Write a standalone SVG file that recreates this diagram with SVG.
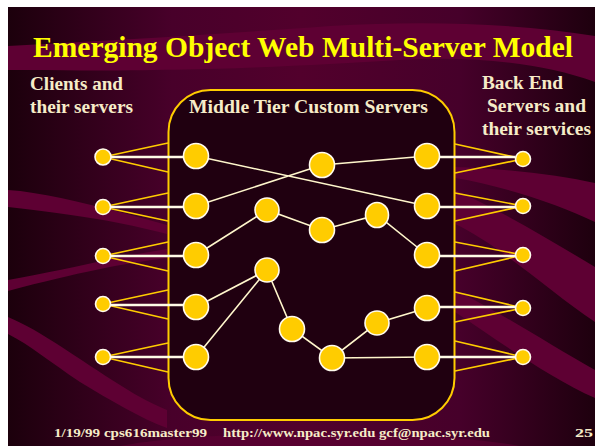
<svg xmlns="http://www.w3.org/2000/svg" width="595" height="446" viewBox="0 0 595 446">
<defs>
<linearGradient id="bg" x1="0" y1="0" x2="1" y2="0">
<stop offset="0" stop-color="#1c000c"/>
<stop offset="0.28" stop-color="#48002a"/>
<stop offset="0.5" stop-color="#52002c"/>
<stop offset="0.77" stop-color="#46002a"/>
<stop offset="1" stop-color="#1e000e"/>
</linearGradient>
<style>
.band{fill:#5e0033}
.fan{stroke:#ffcc00;stroke-width:1.6;fill:none}
.wire{stroke:#fffbe6;stroke-width:2.4;fill:none}
.edge{stroke:#fff6cc;stroke-width:1.6;fill:none}
.node circle,.node ellipse{fill:#ffcc00;stroke:#fffbee;stroke-width:1.6}
.lbl{font-family:"Liberation Serif","Times New Roman",serif;font-weight:bold;fill:#f6ecc8}
.title{font-family:"Liberation Serif","Times New Roman",serif;font-weight:bold;fill:#ffff00;font-size:29px}
.foot{font-family:"Liberation Serif","Times New Roman",serif;font-weight:bold;fill:#f6ecc8;font-size:12px}
</style>
</defs>
<rect x="0" y="0" width="595" height="446" fill="#ffffff"/>
<rect x="8" y="7" width="587" height="439" fill="url(#bg)"/>
<!-- background bands -->
<path class="band" d="M8,46 C120,40 220,34 330,26 C430,20 520,24 595,36 L595,82 C540,62 470,56 400,60 C300,66 200,72 8,70 Z"/>
<path class="band" d="M8,190 C40,192 80,202 120,212 L167,225 L167,234 C120,222 80,215 8,207 Z"/>
<path class="band" d="M8,280 C40,274 80,266 120,257 L167,249 L167,258 C120,264 80,272 8,291 Z"/>
<path class="band" d="M8,317 C40,330 80,360 120,385 C140,398 155,405 167,410 L167,428 C140,418 110,400 80,382 C50,362 30,345 8,334 Z"/>
<path class="band" d="M455,167 C500,168 560,175 595,183 L595,222 C560,205 500,185 455,178 Z"/>
<path class="band" d="M455,190 C500,210 550,240 595,267 L595,322 C550,292 500,245 455,224 Z"/>
<path class="band" d="M455,290 C500,312 550,345 595,370 L595,398 C550,378 500,342 455,312 Z"/>
<path class="band" d="M120,446 C200,430 420,428 520,446 Z" opacity="0.6"/>
<!-- middle tier container -->
<rect id="middle-tier" x="168.5" y="90" width="286" height="330" rx="42" ry="42" fill="#200010" stroke="#ffcc00" stroke-width="2"/>
<g id="connectors">
<!-- client fans -->
<path class="fan" d="M168,143 L103,157 L168,172 M168,193 L103,207 L168,221 M168,242 L103,256 L168,271 M168,290 L103,304 L168,319 M168,343 L103,357 L168,372"/>
<!-- service fans -->
<path class="fan" d="M455,144 L523,159 L455,173 M455,193 L523,206 L455,221 M455,242 L523,255 L455,271 M455,292 L523,308 L455,322 M455,341 L523,357 L455,371"/>
<!-- client to middle -->
<path class="wire" d="M103,157 H196 M103,207 H196 M103,256 H196 M103,305 H196 M103,357 H196"/>
<!-- middle to services -->
<path class="wire" d="M427,157 H515 M427,207 H515 M427,256 H515 M427,307 H515 M427,357 H515"/>
<!-- interior edges -->
<path class="edge" d="M196,156 L427,206 M196,206 L322,165 L427,156 M196,255 L267,210 L322,230 L377,215 L427,255 M196,307 L267,270 L196,357 M267,270 L292,329 L332,358 L377,323 L427,308 M332,358 L427,357"/>
</g>
<g id="clients" class="node">
<circle id="c1" cx="103" cy="157" r="8"/>
<circle id="c2" cx="103" cy="207" r="7.5"/>
<circle id="c3" cx="103" cy="256" r="7.5"/>
<circle id="c4" cx="103" cy="304" r="7.5"/>
<circle id="c5" cx="103" cy="357" r="7.5"/>
</g>
<g id="left-servers" class="node">
<circle id="l1" cx="196" cy="156" r="12.5"/>
<circle id="l2" cx="196" cy="206" r="12.5"/>
<circle id="l3" cx="196" cy="255" r="12.5"/>
<circle id="l4" cx="196" cy="307" r="12.5"/>
<circle id="l5" cx="196" cy="357" r="12.5"/>
</g>
<g id="inner-servers" class="node">
<circle id="nA" cx="322" cy="165" r="12.5"/>
<circle id="nB" cx="267" cy="210" r="12"/>
<circle id="nC" cx="322" cy="230" r="12.5"/>
<ellipse id="nD" cx="377" cy="215" rx="11.5" ry="12.5"/>
<circle id="nE" cx="267" cy="270" r="12"/>
<circle id="nF" cx="292" cy="329" r="12.5"/>
<circle id="nG" cx="332" cy="358" r="12.5"/>
<circle id="nH" cx="377" cy="323" r="12"/>
</g>
<g id="right-servers" class="node">
<circle id="r1" cx="427" cy="156" r="12.5"/>
<circle id="r2" cx="427" cy="206" r="12.5"/>
<circle id="r3" cx="427" cy="255" r="12.5"/>
<circle id="r4" cx="427" cy="308" r="12.5"/>
<circle id="r5" cx="427" cy="357" r="12.5"/>
</g>
<g id="services" class="node">
<circle id="s1" cx="523" cy="159" r="7.5"/>
<circle id="s2" cx="523" cy="206" r="7.5"/>
<circle id="s3" cx="523" cy="255" r="7.5"/>
<circle id="s4" cx="523" cy="308" r="7.5"/>
<circle id="s5" cx="523" cy="357" r="7.5"/>
</g>
<g id="labels">
<text class="title" x="33" y="57" textLength="540" lengthAdjust="spacingAndGlyphs">Emerging Object Web Multi-Server Model</text>
<text class="lbl" x="30" y="90" font-size="19" textLength="93" lengthAdjust="spacingAndGlyphs">Clients and</text>
<text class="lbl" x="30" y="113" font-size="19" textLength="103" lengthAdjust="spacingAndGlyphs">their servers</text>
<text class="lbl" x="189" y="113" font-size="19" textLength="239" lengthAdjust="spacingAndGlyphs">Middle Tier Custom Servers</text>
<text class="lbl" x="482" y="89" font-size="19" textLength="81" lengthAdjust="spacingAndGlyphs">Back End</text>
<text class="lbl" x="487" y="112" font-size="19" textLength="99" lengthAdjust="spacingAndGlyphs">Servers and</text>
<text class="lbl" x="482" y="135" font-size="19" textLength="109" lengthAdjust="spacingAndGlyphs">their services</text>
<text class="foot" x="54" y="437" textLength="153" lengthAdjust="spacingAndGlyphs">1/19/99 cps616master99</text>
<text class="foot" x="223" y="437" textLength="267" lengthAdjust="spacingAndGlyphs">http://www.npac.syr.edu gcf@npac.syr.edu</text>
<text class="foot" x="575" y="437" textLength="18" lengthAdjust="spacingAndGlyphs">25</text>
</g>
</svg>
